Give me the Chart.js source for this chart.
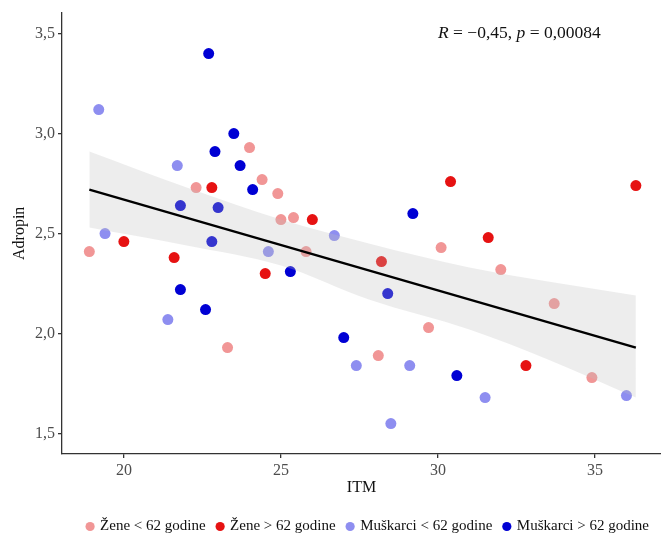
<!DOCTYPE html>
<html>
<head>
<meta charset="utf-8">
<script src="https://cdn.jsdelivr.net/npm/chart.js@4/dist/chart.umd.min.js"></script>
<style>
  html, body { margin: 0; padding: 0; background: #fff; }
  #wrap { width: 661px; height: 536px; }
</style>
</head>
<body>
<div id="wrap"><canvas id="adropinChart"></canvas></div>
<script>
// ── DATA ──
const groupLabels = ['Žene < 62 godine', 'Žene > 62 godine', 'Muškarci < 62 godine', 'Muškarci > 62 godine'];

const zeneMladjeX = [18.9, 22.3, 24.0, 24.4, 24.9, 25.0, 25.4, 25.8, 23.3, 30.1, 32.0, 29.7, 28.1, 33.7, 34.9];
const zeneMladjeY = [2.41, 2.73, 2.93, 2.77, 2.70, 2.57, 2.58, 2.41, 1.93, 2.43, 2.32, 2.03, 1.89, 2.15, 1.78];

const zeneStarijeX = [20.0, 21.6, 22.8, 24.5, 26.0, 28.2, 30.4, 31.6, 32.8, 36.3];
const zeneStarijeY = [2.46, 2.38, 2.73, 2.30, 2.57, 2.36, 2.76, 2.48, 1.84, 2.74];

const muskarciMladjiX = [19.2, 19.4, 21.7, 21.4, 24.6, 26.7, 27.4, 28.5, 29.1, 31.5, 36.0];
const muskarciMladjiY = [3.12, 2.50, 2.84, 2.07, 2.41, 2.49, 1.84, 1.55, 1.84, 1.68, 1.69];

const muskarciStarijiX = [22.7, 23.5, 22.9, 23.7, 24.1, 21.8, 23.0, 22.8, 21.8, 22.6, 25.3, 29.2, 27.0, 30.6, 28.4];
const muskarciStarijiY = [3.40, 3.00, 2.91, 2.84, 2.72, 2.64, 2.63, 2.46, 2.22, 2.12, 2.31, 2.60, 1.98, 1.79, 2.20];

// regression line and its confidence band
const fitX = [18.9, 36.3];
const fitY = [2.72, 1.93];
const bandX = [18.9, 22.0, 25.0, 27.8, 31.0, 33.5, 36.3];
const bandUpper = [2.91, 2.73, 2.57, 2.45, 2.33, 2.26, 2.19];
const bandLower = [2.53, 2.44, 2.34, 2.17, 2.02, 1.87, 1.68];

const xTicks = [20, 25, 30, 35];
const yTicks = [1.5, 2.0, 2.5, 3.0, 3.5];

const corX = 30;
const corY = 3.5;

// ── HELPERS ──
const SERIF = '"Liberation Serif", "Times New Roman", serif';
const toPoints = (xs, ys) => xs.map((x, i) => ({ x, y: ys[i] }));
const comma = (v, d) => Number(v).toFixed(d).replace('.', ',');

function pointSet(label, xs, ys, color) {
  return {
    type: 'scatter',
    label,
    data: toPoints(xs, ys),
    backgroundColor: color,
    borderWidth: 0,
    pointRadius: 5.5,
    pointStyle: 'circle',
    order: 2
  };
}

// "R = −0,45, p = 0,00084" with italic R and p
const corLabel = {
  id: 'corLabel',
  afterDatasetsDraw(chart) {
    const { ctx, scales } = chart;
    let px = scales.x.getPixelForValue(corX);
    const py = scales.y.getPixelForValue(corY);
    const parts = [['R', true], [' = \u22120,45, ', false], ['p', true], [' = 0,00084', false]];
    ctx.save();
    ctx.fillStyle = '#111';
    ctx.textBaseline = 'middle';
    ctx.textAlign = 'left';
    parts.forEach(([t, italic]) => {
      ctx.font = (italic ? 'italic ' : '') + '17.5px ' + SERIF;
      ctx.fillText(t, px, py);
      px += ctx.measureText(t).width;
    });
    ctx.restore();
  }
};

new Chart(document.getElementById('adropinChart'), {
  data: {
    datasets: [
      pointSet(groupLabels[0], zeneMladjeX, zeneMladjeY, 'rgb(241,150,150)'),
      pointSet(groupLabels[1], zeneStarijeX, zeneStarijeY, 'rgb(230,18,18)'),
      pointSet(groupLabels[2], muskarciMladjiX, muskarciMladjiY, 'rgb(142,142,240)'),
      pointSet(groupLabels[3], muskarciStarijiX, muskarciStarijiY, 'rgb(0,0,212)'),
      {
        type: 'line',
        label: 'band-upper',
        data: toPoints(bandX, bandUpper),
        borderWidth: 0,
        pointRadius: 0,
        cubicInterpolationMode: 'monotone',
        backgroundColor: 'rgba(190,190,190,0.28)',
        fill: '+1',
        order: 1
      },
      {
        type: 'line',
        label: 'band-lower',
        data: toPoints(bandX, bandLower),
        borderWidth: 0,
        pointRadius: 0,
        cubicInterpolationMode: 'monotone',
        fill: false,
        order: 1
      },
      {
        type: 'line',
        label: 'fit',
        data: toPoints(fitX, fitY),
        borderColor: '#000',
        borderWidth: 2.4,
        pointRadius: 0,
        fill: false,
        order: 0
      }
    ]
  },
  options: {
    responsive: true,
    maintainAspectRatio: false,
    animation: false,
    events: [],
    layout: { autoPadding: false, padding: { top: 12, left: 0, right: 0, bottom: -8 } },
    plugins: {
      tooltip: { enabled: false },
      legend: {
        position: 'bottom',
        align: 'end',
        labels: {
          filter: (item) => item.datasetIndex < 4,
          usePointStyle: true,
          pointStyle: 'circle',
          boxWidth: 5,
          boxHeight: 6.5,
          padding: 12,
          color: '#111',
          font: { family: SERIF, size: 15 }
        }
      }
    },
    scales: {
      x: {
        type: 'linear',
        min: 18.03,
        max: 37.1,
        afterBuildTicks: (scale) => { scale.ticks = xTicks.map(v => ({ value: v })); },
        afterFit: (scale) => { scale.height = 53; },
        border: { color: '#333', width: 1.3 },
        grid: { drawOnChartArea: false, color: '#333', lineWidth: 1.3, tickLength: 4 },
        ticks: {
          color: '#4d4d4d',
          padding: 3,
          font: { family: SERIF, size: 16 },
          callback: (v) => comma(v, 0)
        },
        title: {
          display: true,
          text: 'ITM',
          color: '#111',
          font: { family: SERIF, size: 16 },
          padding: { top: 0, bottom: 10 }
        }
      },
      y: {
        type: 'linear',
        min: 1.398,
        max: 3.605,
        afterBuildTicks: (scale) => { scale.ticks = yTicks.map(v => ({ value: v })); },
        afterFit: (scale) => { scale.width = 62; },
        border: { color: '#333', width: 1.3 },
        grid: { drawOnChartArea: false, color: '#333', lineWidth: 1.3, tickLength: 4 },
        ticks: {
          color: '#4d4d4d',
          padding: 3,
          font: { family: SERIF, size: 16 },
          callback: (v) => comma(v, 1)
        },
        title: {
          display: true,
          text: 'Adropin',
          color: '#111',
          font: { family: SERIF, size: 16 },
          padding: { top: 10, bottom: 0 }
        }
      }
    }
  },
  plugins: [corLabel]
});
</script>
</body>
</html>
